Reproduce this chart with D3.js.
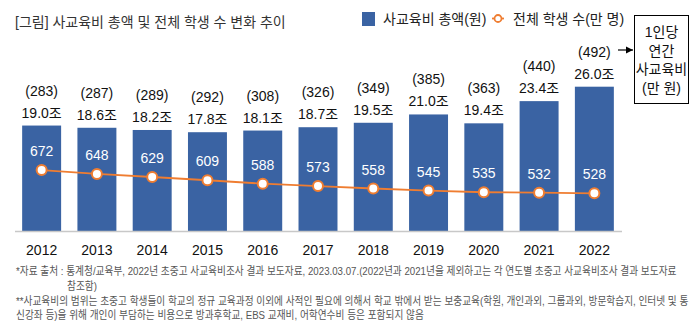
<!DOCTYPE html>
<html><head><meta charset="utf-8">
<script src="https://cdn.jsdelivr.net/npm/d3@7/dist/d3.min.js"></script>
<style>
html,body{margin:0;padding:0;background:#fff;}
svg{display:block;font-family:"Liberation Sans","Noto Sans CJK KR",sans-serif;}
</style></head>
<body>
<svg id="chart" width="694" height="332"></svg>
<script>
const years = ["2012","2013","2014","2015","2016","2017","2018","2019","2020","2021","2022"];
const totalSpend = [19.0,18.6,18.2,17.8,18.1,18.7,19.5,21.0,19.4,23.4,26.0];
const perStudent = [283,287,289,292,308,326,349,385,363,440,492];
const students = [672,648,629,609,588,573,558,545,535,532,528];
const titleText = "[그림] 사교육비 총액 및 전체 학생 수 변화 추이";
const legendLabels = ["사교육비 총액(원)","전체 학생 수(만 명)"];
const boxLines = ["1인당","연간","사교육비","(만 원)"];
const notes = [
  "*자료 출처 : 통계청/교육부, 2022년 초중고 사교육비조사 결과 보도자료, 2023.03.07.(2022년과 2021년을 제외하고는 각 연도별 초중고 사교육비조사 결과 보도자료",
  "참조함)",
  "**사교육비의 범위는 초중고 학생들이 학교의 정규 교육과정 이외에 사적인 필요에 의해서 학교 밖에서 받는 보충교육(학원, 개인과외, 그룹과외, 방문학습지, 인터넷 및 통",
  "신강좌 등)을 위해 개인이 부담하는 비용으로 방과후학교, EBS 교재비, 어학연수비 등은 포함되지 않음"
];

const BLUE = "#3a63a3", ORANGE = "#ef7d31";
const svg = d3.select("#chart");
const baseY = 231;

const x = d3.scaleBand().domain(years).range([14, 622]).paddingInner(0.295).paddingOuter(0.1475);
const y = d3.scaleLinear().domain([0, 30]).range([baseY, baseY - 30 * 5.55]);
const ys = d3.scaleLinear().domain([500, 700]).range([197.9, 165.5]);

// title
svg.append("text").attr("x", 15).attr("y", 27).attr("font-size", 14).attr("fill", "#333").text(titleText);

// bars
svg.append("g").selectAll("rect").data(years).join("rect")
  .attr("x", d => x(d)).attr("width", x.bandwidth())
  .attr("y", (d, i) => y(totalSpend[i])).attr("height", (d, i) => baseY - y(totalSpend[i]))
  .attr("fill", BLUE);

// axis line
svg.append("line").attr("x1", 15).attr("x2", 622).attr("y1", baseY + 0.5).attr("y2", baseY + 0.5)
  .attr("stroke", "#c8c8c8").attr("stroke-width", 1.5);

// x labels
const xAxis = d3.axisBottom(x).tickSize(0).tickPadding(14);
const ax = svg.append("g").attr("transform", `translate(0,${baseY})`).call(xAxis);
ax.select(".domain").remove();
ax.selectAll("text").attr("font-size", 14).attr("fill", "#111").attr("font-family", "Liberation Sans, sans-serif");

// value labels
const lab = svg.append("g").attr("text-anchor", "middle").attr("font-size", 14).attr("fill", "#111");
years.forEach((yr, i) => {
  const cx = x(yr) + x.bandwidth() / 2;
  lab.append("text").attr("x", cx).attr("y", y(totalSpend[i]) - 8).text(totalSpend[i].toFixed(1) + "조");
  lab.append("text").attr("x", cx).attr("y", y(totalSpend[i]) - 30).text("(" + perStudent[i] + ")");
});

// student line
const line = d3.line().x((d, i) => x(years[i]) + x.bandwidth() / 2).y(d => ys(d));
svg.append("path").datum(students).attr("d", line).attr("fill", "none").attr("stroke", ORANGE).attr("stroke-width", 1.8);
svg.append("g").selectAll("circle").data(students).join("circle")
  .attr("cx", (d, i) => x(years[i]) + x.bandwidth() / 2).attr("cy", d => ys(d)).attr("r", 5)
  .attr("fill", "#fff").attr("stroke", ORANGE).attr("stroke-width", 2);
svg.append("g").attr("text-anchor", "middle").attr("font-size", 14).attr("fill", "#fff")
  .selectAll("text").data(students).join("text")
  .attr("x", (d, i) => x(years[i]) + x.bandwidth() / 2).attr("y", d => ys(d) - 14).text(d => d);

// legend
svg.append("rect").attr("x", 362).attr("y", 12).attr("width", 13).attr("height", 14).attr("fill", BLUE);
svg.append("text").attr("x", 383).attr("y", 24).attr("font-size", 14).attr("fill", "#222").text(legendLabels[0]);
svg.append("line").attr("x1", 492).attr("x2", 504).attr("y1", 18.5).attr("y2", 18.5).attr("stroke", ORANGE).attr("stroke-width", 1.8);
svg.append("circle").attr("cx", 498).attr("cy", 18.5).attr("r", 3.5).attr("fill", "#fff").attr("stroke", ORANGE).attr("stroke-width", 1.8);
svg.append("text").attr("x", 513).attr("y", 24).attr("font-size", 14).attr("fill", "#222").text(legendLabels[1]);

// box with arrow
svg.append("defs").append("marker").attr("id", "ah").attr("viewBox", "0 0 10 10").attr("refX", 10).attr("refY", 5)
  .attr("markerWidth", 6).attr("markerHeight", 6).attr("orient", "auto")
  .append("path").attr("d", "M0,0L10,5L0,10z").attr("fill", "#000");
svg.append("line").attr("x1", 618).attr("x2", 633).attr("y1", 50).attr("y2", 50).attr("stroke", "#000").attr("stroke-width", 1.2).attr("marker-end", "url(#ah)");
svg.append("rect").attr("x", 634.5).attr("y", 15.5).attr("width", 54).attr("height", 88).attr("fill", "#fff").attr("stroke", "#000").attr("stroke-width", 1);
svg.append("g").attr("text-anchor", "middle").attr("font-size", 14).attr("fill", "#111")
  .selectAll("text").data(boxLines).join("text")
  .attr("x", 661.5).attr("y", (d, i) => 37 + i * 18.5).text(d => d);

// footnotes (condensed horizontally with a common factor)
const noteY = [275, 290, 305, 319];
const noteX = [16, 67, 16, 16];
const ng = svg.append("g").attr("font-size", 11).attr("fill", "#555");
const nt = ng.selectAll("text").data(notes).join("text").attr("y", (d, i) => noteY[i]).text(d => d);
const k = 661 / nt.nodes()[0].getComputedTextLength();
ng.attr("transform", `scale(${k},1)`);
nt.attr("x", (d, i) => noteX[i] / k);
</script>
</body></html>
